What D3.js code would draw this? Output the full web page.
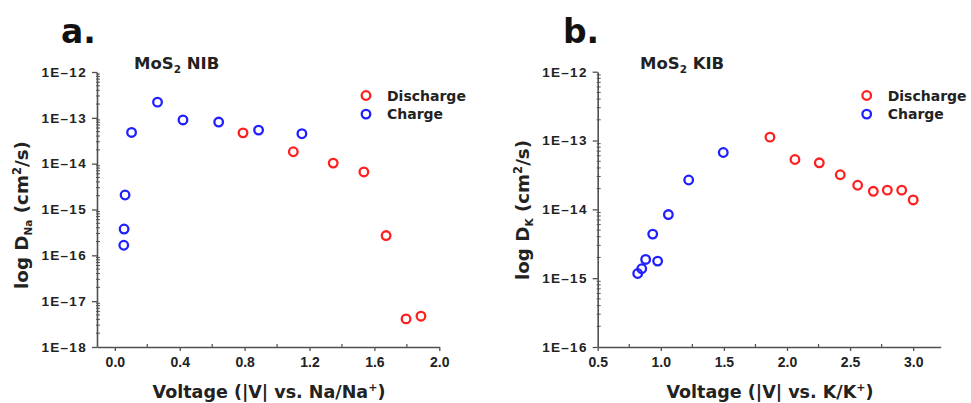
<!DOCTYPE html>
<html>
<head>
<meta charset="utf-8">
<script src="https://cdn.jsdelivr.net/npm/d3@7"></script>
<style>
  html, body { margin: 0; padding: 0; background: #fff; }
  svg { display: block; font-family: "DejaVu Sans", Verdana, sans-serif; font-weight: bold; }
</style>
</head>
<body>
<svg id="chart" width="971" height="403"></svg>
<script>
// MoS2 sodium-ion (NIB) diffusion coefficients vs voltage
const naDischargeV = [0.79, 1.10, 1.346, 1.535, 1.672, 1.795, 1.887];
const naDischargeD = [4.7e-14, 1.82e-14, 1.03e-14, 6.6e-15, 2.7e-16, 4.1e-18, 4.7e-18];
const naChargeV = [0.055, 0.057, 0.063, 0.103, 0.263, 0.42, 0.64, 0.886, 1.153];
const naChargeD = [1.66e-16, 3.75e-16, 2.07e-15, 4.8e-14, 2.2e-13, 9.0e-14, 8.1e-14, 5.4e-14, 4.5e-14];

// MoS2 potassium-ion (KIB) diffusion coefficients vs voltage
const kDischargeV = [1.865, 2.063, 2.256, 2.422, 2.56, 2.684, 2.795, 2.909, 3.0];
const kDischargeD = [1.12e-13, 5.3e-14, 4.75e-14, 3.18e-14, 2.24e-14, 1.83e-14, 1.9e-14, 1.9e-14, 1.37e-14];
const kChargeV = [0.817, 0.849, 0.88, 0.936, 0.975, 1.06, 1.221, 1.495];
const kChargeD = [1.17e-15, 1.37e-15, 1.87e-15, 4.37e-15, 1.77e-15, 8.4e-15, 2.67e-14, 6.7e-14];

// Axis tick values
const naXTicks = [0.0, 0.4, 0.8, 1.2, 1.6, 2.0];
const naXMinor = [0.2, 0.6, 1.0, 1.4, 1.8];
const naYTicks = [1e-18, 1e-17, 1e-16, 1e-15, 1e-14, 1e-13, 1e-12];
const kXTicks = [0.5, 1.0, 1.5, 2.0, 2.5, 3.0];
const kXMinor = [0.75, 1.25, 1.75, 2.25, 2.75];
const kYTicks = [1e-16, 1e-15, 1e-14, 1e-13, 1e-12];

const legendNames = ["Discharge", "Charge"];
const RED = "#ff1f1f", BLUE = "#1f1fff", AXIS = "#505050";

const svg = d3.select("#chart");

function yLabel(d) {
  return "1E\u2013" + Math.round(-Math.log10(d));
}

function drawPanel(p) {
  const g = svg.append("g");
  const x = d3.scaleLinear().domain(p.xDomain).range(p.xRange);
  const y = d3.scaleLog().domain(p.yDomain).range(p.yRange);

  // minor log ticks on the y axis (2..9 of every decade)
  const minorY = [];
  p.yTicks.slice(0, -1).forEach(t => {
    for (let k = 2; k <= 9; k++) minorY.push(t * k);
  });

  // x axis
  const xa = g.append("g").attr("transform", `translate(0,${p.yRange[0]})`)
    .call(d3.axisBottom(x).tickValues(p.xTicks).tickFormat(d3.format(".1f"))
      .tickSize(4).tickPadding(6).tickSizeOuter(0));
  xa.select(".domain").attr("stroke", AXIS).attr("stroke-width", 1.6);
  xa.selectAll(".tick line").attr("stroke", AXIS).attr("stroke-width", 1.3);
  xa.selectAll("text").attr("fill", "#222").style("font-size", "14px").style("font-weight", "bold");
  g.append("g").selectAll("line").data(p.xMinor).join("line")
    .attr("x1", d => x(d)).attr("x2", d => x(d))
    .attr("y1", p.yRange[0]).attr("y2", p.yRange[0] - 3)
    .attr("stroke", AXIS).attr("stroke-width", 1.2);

  // y axis
  const ya = g.append("g").attr("transform", `translate(${p.xRange[0]},0)`)
    .call(d3.axisLeft(y).tickValues(p.yTicks).tickFormat(yLabel)
      .tickSize(5).tickPadding(5).tickSizeOuter(0));
  ya.select(".domain").attr("stroke", AXIS).attr("stroke-width", 1.6);
  ya.selectAll(".tick line").attr("stroke", AXIS).attr("stroke-width", 1.3);
  ya.selectAll("text").attr("fill", "#222").style("font-size", "13.5px")
    .style("font-weight", "bold").style("letter-spacing", "1.3px");
  g.append("g").selectAll("line").data(minorY).join("line")
    .attr("x1", p.xRange[0] - 1).attr("x2", p.xRange[0] + 3)
    .attr("y1", d => y(d)).attr("y2", d => y(d))
    .attr("stroke", AXIS).attr("stroke-width", 1);

  // data points
  const series = [
    { v: p.disV, d: p.disD, c: RED },
    { v: p.chV, d: p.chD, c: BLUE }
  ];
  series.forEach(s => {
    g.append("g").selectAll("circle").data(s.v.map((v, i) => [v, s.d[i]])).join("circle")
      .attr("cx", d => x(d[0])).attr("cy", d => y(d[1])).attr("r", 4.3)
      .attr("fill", "none").attr("stroke", s.c).attr("stroke-width", 2.3);
  });

  // legend
  legendNames.forEach((name, i) => {
    const ly = p.legend[1] + i * 18.6;
    g.append("circle").attr("cx", p.legend[0]).attr("cy", ly).attr("r", 4.3)
      .attr("fill", "none").attr("stroke", i === 0 ? RED : BLUE).attr("stroke-width", 2.3);
    g.append("text").attr("x", p.legend[0] + 21).attr("y", ly + 5)
      .attr("fill", "#222").style("font-size", "14px").text(name);
  });

  // panel letter
  g.append("text").attr("x", p.letter[0]).attr("y", p.letter[1])
    .attr("fill", "#111").style("font-size", "33px").text(p.letterText);

  // panel title with subscript
  const t = g.append("text").attr("x", p.title[0]).attr("y", p.title[1])
    .attr("fill", "#222").style("font-size", "16.5px");
  t.append("tspan").text("MoS");
  t.append("tspan").attr("dy", 4).style("font-size", "10.5px").text("2");
  t.append("tspan").attr("dy", -4).text(" " + p.titleText);

  // x-axis title with superscript
  const xt = g.append("text").attr("x", p.xTitle[0]).attr("y", p.xTitle[1])
    .attr("text-anchor", "middle").attr("fill", "#222").style("font-size", "17.5px");
  xt.append("tspan").text(p.xTitleText);
  xt.append("tspan").attr("dy", -7).style("font-size", "11px").text("+");
  xt.append("tspan").attr("dy", 7).text(")");

  // y-axis title with subscript and superscript
  const yt = g.append("text")
    .attr("transform", `translate(${p.yTitle[0]},${p.yTitle[1]}) rotate(-90)`)
    .attr("text-anchor", "middle").attr("fill", "#222").style("font-size", "18.3px");
  yt.append("tspan").text("log D");
  yt.append("tspan").attr("dy", 4).style("font-size", "10.5px").text(p.ion);
  yt.append("tspan").attr("dy", -4).text(" (cm");
  yt.append("tspan").attr("dy", -7).style("font-size", "11.5px").text("2");
  yt.append("tspan").attr("dy", 7).text("/s)");
}

drawPanel({
  xDomain: [-0.11, 2.0], xRange: [97, 439.3],
  yDomain: [1e-18, 1e-12], yRange: [347, 72],
  xTicks: naXTicks, xMinor: naXMinor, yTicks: naYTicks,
  disV: naDischargeV, disD: naDischargeD, chV: naChargeV, chD: naChargeD,
  legend: [366, 95.5], letter: [61, 43], letterText: "a.",
  title: [134, 69], titleText: "NIB",
  xTitle: [269, 398], xTitleText: "Voltage (|V| vs. Na/Na",
  yTitle: [28, 215], ion: "Na"
});

drawPanel({
  xDomain: [0.5, 3.218], xRange: [597.7, 940.7],
  yDomain: [1e-16, 1e-12], yRange: [347, 71.7],
  xTicks: kXTicks, xMinor: kXMinor, yTicks: kYTicks,
  disV: kDischargeV, disD: kDischargeD, chV: kChargeV, chD: kChargeD,
  legend: [866.7, 95.5], letter: [563, 43], letterText: "b.",
  title: [640, 69], titleText: "KIB",
  xTitle: [770, 398], xTitleText: "Voltage (|V| vs. K/K",
  yTitle: [529, 210], ion: "K"
});
</script>
</body>
</html>
